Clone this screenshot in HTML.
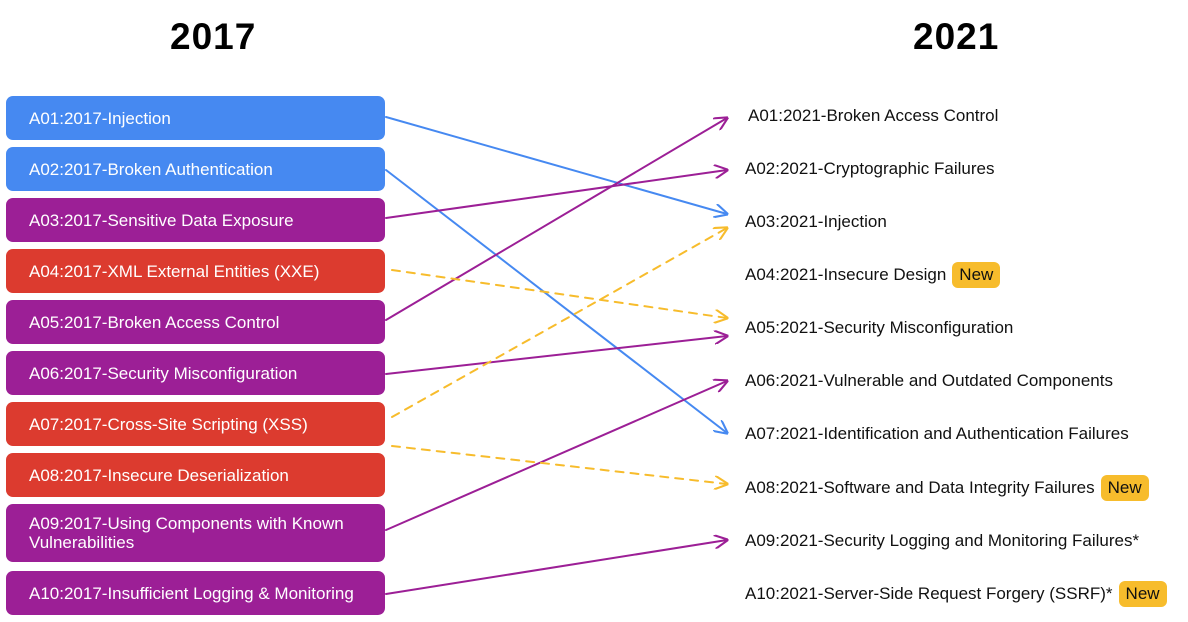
<!DOCTYPE html>
<html><head><style>
body{margin:0;width:1188px;height:622px;background:#fff;position:relative;font-family:"Liberation Sans",sans-serif;overflow:hidden}
.t{position:absolute;font-weight:bold;font-size:37px;color:#000;top:16px;letter-spacing:1px}
.b{position:absolute;left:6px;width:379px;border-radius:7px;color:#fff;font-size:17px;box-sizing:border-box;padding-left:23px;display:flex;align-items:center;line-height:19px}
.bl{background:#4689F1}.pu{background:#9C1F96}.re{background:#DC3B2F}
.r{position:absolute;left:745px;font-size:17px;color:#111;height:24px;line-height:24px;white-space:nowrap;display:flex;align-items:center}
.n{background:#F7BC2C;border-radius:6px;padding:0 7px;margin-left:6px;height:26px;line-height:26px}
svg{position:absolute;left:0;top:0}
</style></head><body>
<div class="t" style="left:170px">2017</div>
<div class="t" style="left:913px">2021</div>
<div class="b bl" style="top:96px;height:44px">A01:2017-Injection</div>
<div class="b bl" style="top:147px;height:44px">A02:2017-Broken Authentication</div>
<div class="b pu" style="top:198px;height:44px">A03:2017-Sensitive Data Exposure</div>
<div class="b re" style="top:249px;height:44px">A04:2017-XML External Entities (XXE)</div>
<div class="b pu" style="top:300px;height:44px">A05:2017-Broken Access Control</div>
<div class="b pu" style="top:351px;height:44px">A06:2017-Security Misconfiguration</div>
<div class="b re" style="top:402px;height:44px">A07:2017-Cross-Site Scripting (XSS)</div>
<div class="b re" style="top:453px;height:44px">A08:2017-Insecure Deserialization</div>
<div class="b pu" style="top:504px;height:58px">A09:2017-Using Components with Known<br>Vulnerabilities</div>
<div class="b pu" style="top:571px;height:44px">A10:2017-Insufficient Logging &amp; Monitoring</div>
<div class="r" style="top:104px;left:748px">A01:2021-Broken Access Control</div>
<div class="r" style="top:157px">A02:2021-Cryptographic Failures</div>
<div class="r" style="top:210px">A03:2021-Injection</div>
<div class="r" style="top:263px">A04:2021-Insecure Design<span class="n">New</span></div>
<div class="r" style="top:316px">A05:2021-Security Misconfiguration</div>
<div class="r" style="top:369px">A06:2021-Vulnerable and Outdated Components</div>
<div class="r" style="top:422px">A07:2021-Identification and Authentication Failures</div>
<div class="r" style="top:476px">A08:2021-Software and Data Integrity Failures<span class="n">New</span></div>
<div class="r" style="top:529px">A09:2021-Security Logging and Monitoring Failures*</div>
<div class="r" style="top:582px">A10:2021-Server-Side Request Forgery (SSRF)*<span class="n">New</span></div>
<svg width="1188" height="622" fill="none" stroke-width="2" stroke-linecap="round">
<defs>
<marker id="mp" viewBox="0 0 10 10" refX="9" refY="5" markerWidth="14" markerHeight="14" orient="auto" markerUnits="userSpaceOnUse"><path d="M0,0L10,5L0,10" fill="none" stroke="#9C1F96" stroke-width="1.5"/></marker>
<marker id="my" viewBox="0 0 10 10" refX="9" refY="5" markerWidth="14" markerHeight="14" orient="auto" markerUnits="userSpaceOnUse"><path d="M0,0L10,5L0,10" fill="none" stroke="#F7BC2C" stroke-width="1.5"/></marker>
<marker id="mb" viewBox="0 0 10 10" refX="9" refY="5" markerWidth="14" markerHeight="14" orient="auto" markerUnits="userSpaceOnUse"><path d="M0,0L10,5L0,10" fill="none" stroke="#4689F1" stroke-width="1.5"/></marker>
</defs>
<g stroke="#4689F1">
<line x1="386" y1="117" x2="727" y2="214" marker-end="url(#mb)"/>
<line x1="386" y1="170" x2="727" y2="433" marker-end="url(#mb)"/>
</g>
<g stroke="#9C1F96">
<line x1="386" y1="218" x2="727" y2="170" marker-end="url(#mp)"/>
<line x1="386" y1="320" x2="727" y2="118" marker-end="url(#mp)"/>
<line x1="386" y1="374" x2="727" y2="336" marker-end="url(#mp)"/>
<line x1="386" y1="530" x2="727" y2="381" marker-end="url(#mp)"/>
<line x1="386" y1="594" x2="727" y2="540" marker-end="url(#mp)"/>
</g>
<g stroke="#F7BC2C" stroke-dasharray="8 7">
<line x1="392" y1="270" x2="727" y2="318" marker-end="url(#my)"/>
<line x1="392" y1="417" x2="727" y2="228" marker-end="url(#my)"/>
<line x1="392" y1="446" x2="727" y2="484" marker-end="url(#my)"/>
</g>
</svg>
</body></html>
